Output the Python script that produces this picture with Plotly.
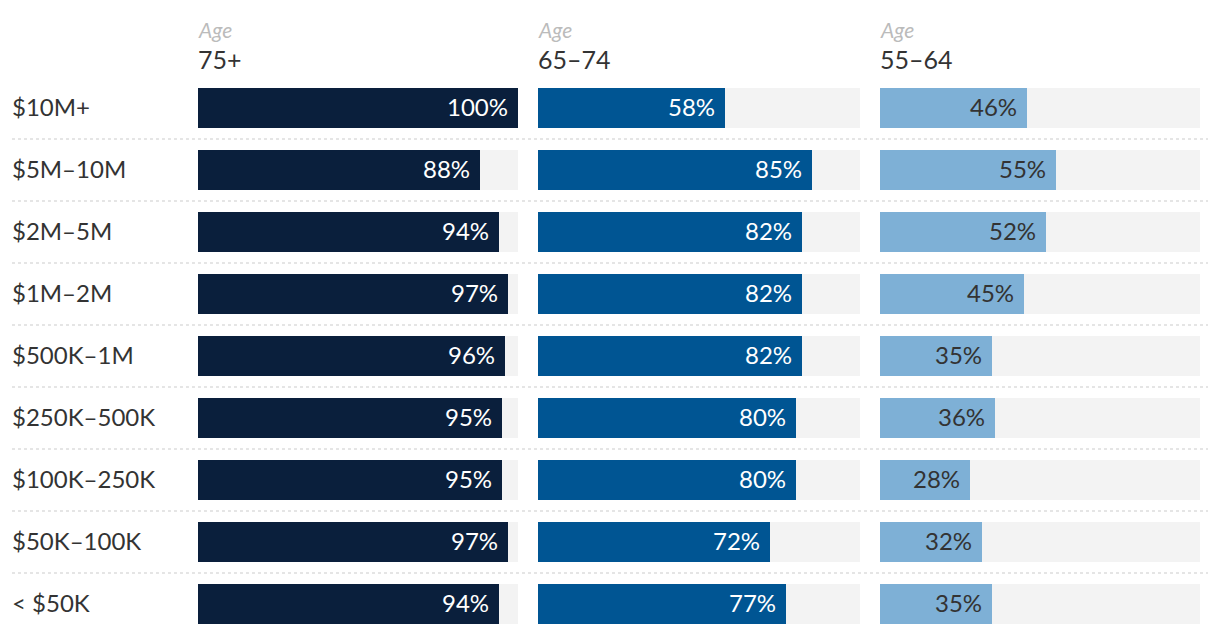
import plotly.graph_objects as go

categories = ["$10M+", "$5M–10M", "$2M–5M", "$1M–2M", "$500K–1M",
              "$250K–500K", "$100K–250K", "$50K–100K", "< $50K"]
age_groups = ["75+", "65–74", "55–64"]
values_75 = [100, 88, 94, 97, 96, 95, 95, 97, 94]
values_65 = [58, 85, 82, 82, 82, 80, 80, 72, 77]
values_55 = [46, 55, 52, 45, 35, 36, 28, 32, 35]
series = [values_75, values_65, values_55]

W, H = 1220, 634
colors = ["#0a1f3c", "#005593", "#7eb0d6"]
text_colors = ["#ffffff", "#ffffff", "#333333"]
panel_px = [(198, 518), (538, 860), (880, 1200)]
FONT = "Lato"

fig = go.Figure()
xaxes = ["x", "x2", "x3"]
for i, vals in enumerate(series):
    xa = xaxes[i]
    fig.add_trace(go.Bar(y=categories, x=[100] * len(categories), orientation="h",
                         marker=dict(color="#f3f3f3", line=dict(width=0)),
                         width=40 / 62, xaxis=xa, yaxis="y", hoverinfo="skip",
                         showlegend=False))
    fig.add_trace(go.Bar(y=categories, x=vals, orientation="h",
                         marker=dict(color=colors[i], line=dict(width=0)),
                         width=40 / 62, xaxis=xa, yaxis="y", showlegend=False))
    for c, v in zip(categories, vals):
        fig.add_annotation(x=v, y=c, xref=xa, yref="y", text=f"{v}%",
                           xanchor="right", yanchor="middle", xshift=-8, yshift=2,
                           showarrow=False,
                           font=dict(family=FONT, size=24, color=text_colors[i]))
    x0 = panel_px[i][0] / W
    fig.add_annotation(x=x0, y=1 - 29 / H, xref="paper", yref="paper", text="<i>Age</i>",
                       xanchor="left", yanchor="middle", showarrow=False, xshift=-2,
                       font=dict(family=FONT, size=21, color="#bbbbbb"))
    fig.add_annotation(x=x0, y=1 - 59 / H, xref="paper", yref="paper", text=age_groups[i],
                       xanchor="left", yanchor="middle", showarrow=False, xshift=-2,
                       font=dict(family=FONT, size=25, color="#333333"))

for j, c in enumerate(categories):
    fig.add_annotation(x=12 / W, y=c, xref="paper", yref="y", text=c,
                       xanchor="left", yanchor="middle", showarrow=False, xshift=-2,
                       yshift=2, font=dict(family=FONT, size=24, color="#333333"))
    if j < len(categories) - 1:
        fig.add_shape(type="line", xref="paper", yref="y", x0=12 / W, x1=1208 / W,
                      y0=j + 0.5, y1=j + 0.5,
                      line=dict(color="#cccccc", width=1.2, dash="dot"), layer="below")

ax_common = dict(range=[0, 100], showgrid=False, zeroline=False, showticklabels=False,
                 showline=False, fixedrange=True)
top_val = -108 / 62
bot_val = 8 + (H - 604) / 62
fig.update_layout(
    width=W, height=H, margin=dict(l=0, r=0, t=0, b=0),
    paper_bgcolor="white", plot_bgcolor="white", barmode="overlay",
    bargap=0,
    xaxis=dict(domain=[panel_px[0][0] / W, panel_px[0][1] / W], anchor="y", **ax_common),
    xaxis2=dict(domain=[panel_px[1][0] / W, panel_px[1][1] / W], anchor="y", **ax_common),
    xaxis3=dict(domain=[panel_px[2][0] / W, panel_px[2][1] / W], anchor="y", **ax_common),
    yaxis=dict(domain=[0, 1], range=[bot_val, top_val], type="category",
               categoryorder="array", categoryarray=categories,
               showgrid=False, zeroline=False, showticklabels=False, fixedrange=True),
)
fig.write_html("out.html", config={"displayModeBar": False},
               post_script="document.body.style.margin='0';document.body.style.overflow='hidden';")
